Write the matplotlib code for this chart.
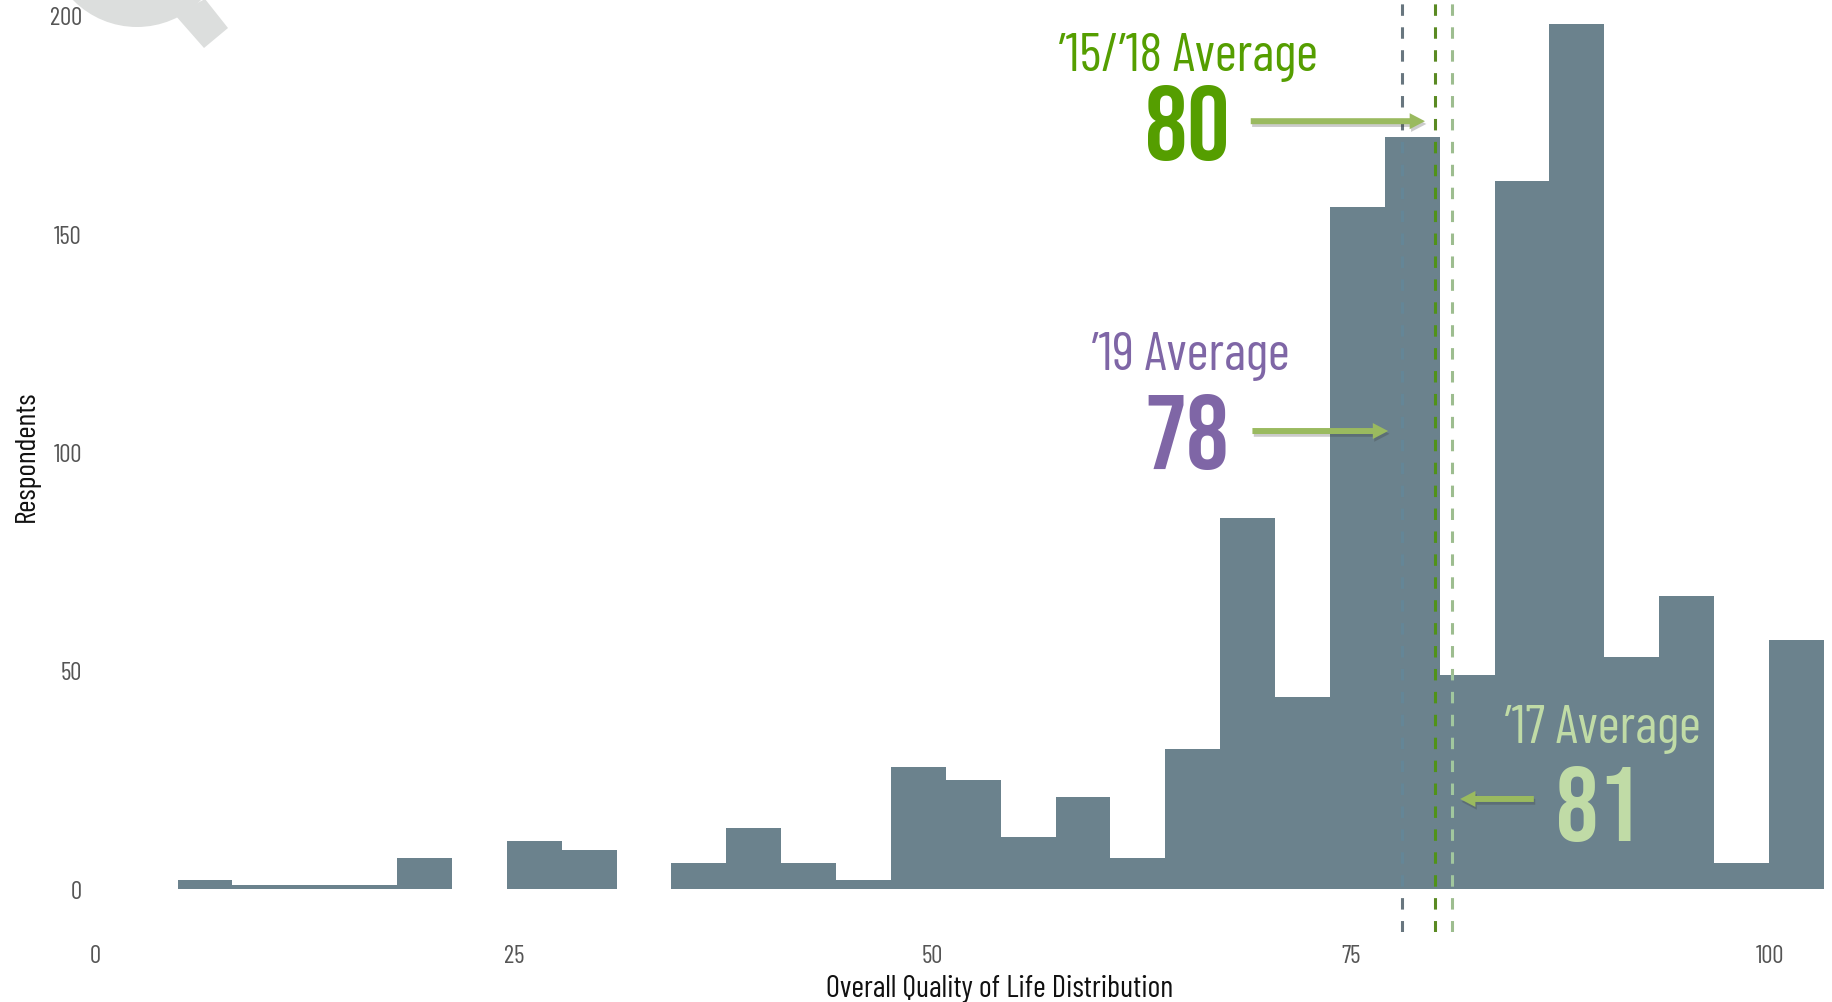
import matplotlib
matplotlib.use("Agg")
import matplotlib.pyplot as plt
import matplotlib.patheffects as pe
from matplotlib.patches import Circle, Polygon

W, H = 1832, 1003
REG = ['Barlow Condensed', 'Archivo Narrow', 'DejaVu Sans']
BOLD = ['Bebas Neue', 'Barlow Condensed', 'DejaVu Sans']
plt.rcParams['font.family'] = REG

counts = [2, 1, 1, 1, 7, 0, 11, 9, 0, 6, 14, 6, 2, 28, 25, 12, 21, 7, 32, 85,
          44, 156, 172, 49, 162, 198, 53, 67, 6, 57]
bin_start = 4.93
bin_width = 3.276
x_ticks = [0, 25, 50, 75, 100]
y_ticks = [0, 50, 100, 150, 200]
avg_years = ["'19", "'15/'18", "'17"]
avg_values = [78, 80, 81]

BAR = '#6b828d'
def fx(px): return px / W
def fy(py): return 1 - py / H

fig = plt.figure(figsize=(W / 100, H / 100), dpi=100, facecolor='white')

# decorative magnifier, partly cut by the top edge
bg = fig.add_axes([0, 0, 1, 1], zorder=0)
bg.set_xlim(0, W); bg.set_ylim(H, 0); bg.axis('off')
GREY = '#dcdedd'
bg.add_patch(Polygon([(175, 16), (205, 0), (228, 29), (204, 49)], closed=True, fc=GREY, ec='none'))
bg.add_patch(Circle((137, -61.4), 89.4, fc=GREY, ec='none'))

# axes geometry: x=0 at px 95, 16.75 px/unit; y=0 at px 890, 4.37 px/unit
L, R, T, B = 90, 1832, 0, 933
ax = fig.add_axes([fx(L), fy(B), (R - L) / W, (B - T) / H], zorder=1)
ax.patch.set_alpha(0)
ax.set_xlim((L - 95) / 16.75, (R - 95) / 16.75)
ax.set_ylim((890 - B) / 4.37, (890 - T) / 4.37)

edges = [bin_start + bin_width * i for i in range(len(counts) + 1)]
bars = ax.stairs(counts, edges, fill=True, color=BAR, lw=0, zorder=2)

line_cols = ['#68767f', '#5a8a22', '#9dbd8f']
inner_cols = ['#5f8aa0', '#4f9412', '#a5cba0']
for v, c, ci in zip(avg_values, line_cols, inner_cols):
    ls = (0, (3.75, 3.75))
    ax.axvline(v, color=c, lw=2.2, ls=ls, zorder=1)
    inner = ax.axvline(v, color=ci, lw=2.2, ls=ls, zorder=3,
                       alpha=0.55 if v == 78 else 0.95)
    inner.set_clip_path(bars.get_path(), bars.get_transform())

for s in ax.spines.values():
    s.set_visible(False)
ax.set_xticks(x_ticks)
ax.set_yticks(y_ticks)
ax.tick_params(length=0, labelsize=18, labelcolor='#555555')
ax.tick_params(axis='x', pad=9)
ax.tick_params(axis='y', pad=6)
ax.set_xlabel('Overall Quality of Life Distribution', fontsize=22, color='#111111')
ax.set_ylabel('Respondents', fontsize=21.5, color='#111111')
ax.xaxis.set_label_coords((1000 - L) / (R - L), (B - 975) / (B - T))
ax.yaxis.set_label_coords((40 - L) / (R - L), (B - 456) / (B - T))

AR = '#9aba5f'
shadow = [pe.SimplePatchShadow(offset=(1, -2), shadow_rgbFace='#333333', alpha=0.25), pe.Normal()]
arrows = [(69.1, 77.2, 104.8), (69.0, 79.4, 175.7), (85.9, 81.5, 20.6)]
for x0, x1, y in arrows:
    ann = ax.annotate('', xy=(x1, y), xytext=(x0, y), zorder=5,
                      arrowprops=dict(arrowstyle='simple,head_length=1.1,head_width=1.15,tail_width=0.43',
                                      mutation_scale=10, lw=0, fc=AR, ec='none', shrinkA=0, shrinkB=0))
    ann.arrow_patch.set_path_effects(shadow)

cols = ['#7f66a6', '#559e00', '#c0dba6']
head_pos = [(1191, 357), (1188, 57), (1603, 730)]
num_pos = [(1187, 432), (1187, 123), (1598, 804)]
for yr, val, c, hp, np_ in zip(avg_years, avg_values, cols, head_pos, num_pos):
    fig.text(fx(hp[0]), fy(hp[1]), yr.replace("'", "\u2019") + ' Average', color=c, fontsize=38.5,
             ha='center', va='center', zorder=6)
    fig.text(fx(np_[0]), fy(np_[1]), str(val), color=c, fontsize=76,
             family=BOLD, ha='center', va='center', zorder=6)

fig.savefig('out.png', dpi=100)
